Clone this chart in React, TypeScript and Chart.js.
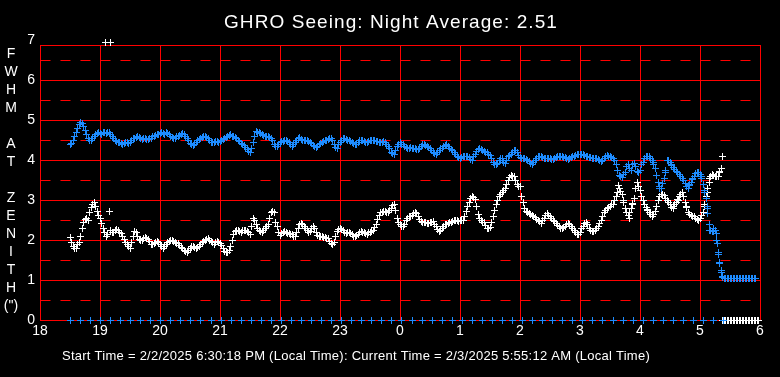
import { useEffect, useRef } from "react";
import { Chart, registerables } from "chart.js";

Chart.register(...registerables);

const TITLE = "GHRO Seeing: Night Average: 2.51";
const FOOTER =
  "Start Time = 2/2/2025 6:30:18 PM (Local Time): Current Time = 2/3/2025 5:55:12 AM (Local Time)";
const Y_LABEL_CHARS = ["F", "W", "H", "M", "", "A", "T", "", "Z", "E", "N", "I", "T", "H", '(")'];

const X_MIN = 18;
const X_MAX = 30;
const Y_MIN = 0;
const Y_MAX = 7;
const FRAME_TOP = 6.875;

// regular sampling of the two seeing series (hours since midnight of start day)
const SAMPLE_START = 18.5;
const SAMPLE_START_B = 18.525;
const SAMPLE_STEP = 0.05;

const blueSeeing = [
  4.38, 4.5, 4.7, 4.88, 4.92, 4.75, 4.55, 4.5, 4.58, 4.67,
  4.67, 4.68, 4.66, 4.68, 4.6, 4.5, 4.45, 4.42, 4.42, 4.43, 4.45, 4.53, 4.57, 4.56, 4.52, 4.54, 4.52, 4.55, 4.6, 4.63,
  4.67, 4.66, 4.68, 4.64, 4.57, 4.54, 4.6, 4.64, 4.63, 4.55, 4.42, 4.37, 4.43, 4.52, 4.56, 4.6, 4.55, 4.45, 4.45, 4.47,
  4.47, 4.52, 4.57, 4.62, 4.6, 4.56, 4.5, 4.42, 4.36, 4.27, 4.2, 4.45, 4.71, 4.68, 4.65, 4.6, 4.58, 4.55, 4.4, 4.35,
  4.45, 4.47, 4.5, 4.43, 4.35, 4.45, 4.54, 4.52, 4.5, 4.48, 4.45, 4.37, 4.31, 4.38, 4.45, 4.48, 4.52, 4.55, 4.4, 4.28,
  4.45, 4.53, 4.52, 4.49, 4.45, 4.38, 4.45, 4.5, 4.46, 4.45, 4.48, 4.5, 4.47, 4.45, 4.45, 4.43, 4.35, 4.2, 4.15, 4.35,
  4.44, 4.38, 4.32, 4.3, 4.3, 4.28, 4.26, 4.35, 4.38, 4.33, 4.3, 4.2, 4.14, 4.24, 4.3, 4.37, 4.35, 4.27, 4.2, 4.1,
  4.04, 4.08, 4.1, 4.06, 4.0, 4.15, 4.27, 4.26, 4.22, 4.18, 4.12, 3.95, 3.88, 3.98, 4.05, 3.92, 4.08, 4.15, 4.25, 4.2,
  4.06, 4.04, 4.02, 3.96, 3.9, 3.98, 4.08, 4.1, 4.05, 4.04, 4.03, 4.02, 4.06, 4.1, 4.08, 4.06, 4.02, 4.06, 4.1, 4.14,
  4.14, 4.13, 4.1, 4.07, 4.05, 4.05, 4.02, 3.97, 4.05, 4.12, 4.08, 4.04, 3.9, 3.62, 3.57, 3.7, 3.88, 3.75, 3.92, 3.72,
  3.75, 3.95, 4.08, 4.1, 3.98, 3.8, 3.45, 3.3, 3.55, 3.98, 3.95, 3.82, 3.72, 3.65, 3.55, 3.42, 3.3, 3.45, 3.6, 3.7,
  3.65, 3.4, 3.05, 2.4, 2.22, 2.25, 1.7, 1.2, 1.05, 1.04, 1.05, 1.04, 1.05, 1.04, 1.05, 1.04, 1.05, 1.04, 1.05,
];

const blueSeeingB = [
  4.42, 4.6, 4.8, 4.93, 4.85, 4.65, 4.5, 4.55, 4.64, 4.7,
  4.64, 4.7, 4.69, 4.65, 4.55, 4.47, 4.44, 4.4, 4.44, 4.41, 4.5, 4.55, 4.59, 4.53, 4.55, 4.51, 4.54, 4.58, 4.62, 4.65,
  4.69, 4.64, 4.66, 4.6, 4.55, 4.58, 4.62, 4.66, 4.6, 4.48, 4.38, 4.4, 4.48, 4.55, 4.58, 4.57, 4.5, 4.43, 4.47, 4.45,
  4.5, 4.55, 4.6, 4.63, 4.58, 4.53, 4.46, 4.39, 4.32, 4.22, 4.3, 4.6, 4.7, 4.66, 4.62, 4.59, 4.56, 4.5, 4.33, 4.4,
  4.46, 4.49, 4.47, 4.38, 4.4, 4.5, 4.56, 4.5, 4.49, 4.46, 4.41, 4.33, 4.35, 4.42, 4.47, 4.5, 4.54, 4.48, 4.32, 4.38,
  4.5, 4.55, 4.5, 4.47, 4.42, 4.4, 4.48, 4.48, 4.44, 4.47, 4.5, 4.48, 4.46, 4.43, 4.47, 4.4, 4.28, 4.16, 4.25, 4.4,
  4.4, 4.35, 4.3, 4.32, 4.28, 4.27, 4.3, 4.38, 4.36, 4.31, 4.25, 4.16, 4.2, 4.28, 4.34, 4.38, 4.3, 4.24, 4.15, 4.06,
  4.06, 4.1, 4.08, 4.02, 4.08, 4.22, 4.28, 4.24, 4.2, 4.15, 4.05, 3.9, 3.92, 4.05, 3.95, 4.0, 4.12, 4.2, 4.24, 4.12,
  4.05, 4.03, 3.98, 3.92, 3.94, 4.04, 4.1, 4.07, 4.05, 4.03, 4.02, 4.04, 4.08, 4.09, 4.07, 4.03, 4.04, 4.08, 4.12, 4.15,
  4.15, 4.11, 4.08, 4.06, 4.04, 4.03, 3.99, 4.0, 4.1, 4.1, 4.06, 3.98, 3.75, 3.58, 3.63, 3.85, 3.8, 3.9, 3.85, 3.68,
  3.88, 4.05, 4.1, 4.05, 3.9, 3.62, 3.35, 3.42, 3.75, 4.0, 3.88, 3.77, 3.68, 3.6, 3.48, 3.35, 3.38, 3.52, 3.67, 3.68,
  3.55, 3.2, 2.8, 2.25, 2.22, 2.0, 1.45, 1.08, 1.04, 1.05, 1.04, 1.05, 1.04, 1.05, 1.04, 1.05, 1.04, 1.05, 1.04,
];

const whiteSeeing = [
  2.06, 1.84, 1.8, 1.95, 2.3, 2.52, 2.48, 2.82, 2.95, 2.72,
  2.54, 2.3, 2.08, 2.72, 2.2, 2.23, 2.24, 2.17, 2.02, 1.9, 1.8, 2.1, 2.18, 2.02, 2.0, 2.06, 2.02, 1.9, 1.92, 1.97,
  1.9, 1.8, 1.9, 1.97, 1.99, 1.95, 1.92, 1.82, 1.75, 1.7, 1.8, 1.84, 1.8, 1.83, 1.94, 1.98, 2.03, 1.97, 1.9, 1.97,
  1.92, 1.8, 1.68, 1.75, 2.0, 2.22, 2.25, 2.2, 2.25, 2.22, 2.15, 2.54, 2.4, 2.25, 2.2, 2.3, 2.38, 2.7, 2.68, 2.35,
  2.12, 2.2, 2.19, 2.17, 2.13, 2.1, 2.3, 2.42, 2.35, 2.25, 2.22, 2.34, 2.2, 2.08, 2.08, 2.06, 2.03, 1.92, 1.95, 2.22,
  2.28, 2.25, 2.17, 2.2, 2.15, 2.08, 2.15, 2.21, 2.18, 2.15, 2.2, 2.25, 2.4, 2.62, 2.7, 2.71, 2.68, 2.8, 2.88, 2.55,
  2.38, 2.33, 2.48, 2.58, 2.62, 2.7, 2.6, 2.47, 2.44, 2.42, 2.43, 2.46, 2.35, 2.22, 2.3, 2.38, 2.42, 2.44, 2.48, 2.5,
  2.48, 2.5, 2.72, 2.95, 3.08, 3.02, 2.65, 2.48, 2.43, 2.3, 2.32, 2.6, 2.9, 3.1, 3.18, 3.3, 3.48, 3.62, 3.58, 3.4,
  3.35, 2.95, 2.72, 2.66, 2.62, 2.56, 2.5, 2.42, 2.55, 2.66, 2.58, 2.5, 2.42, 2.33, 2.29, 2.33, 2.42, 2.35, 2.25, 2.13,
  2.18, 2.35, 2.45, 2.3, 2.21, 2.25, 2.35, 2.5, 2.68, 2.78, 2.85, 2.9, 3.08, 3.28, 3.15, 2.8, 2.62, 2.78, 3.05, 3.45,
  3.25, 3.0, 2.82, 2.7, 2.6, 2.72, 2.98, 3.15, 3.12, 3.0, 2.88, 2.8, 2.95, 3.08, 3.2, 2.95, 2.7, 2.62, 2.58, 2.52,
  2.55, 2.7, 3.1, 3.45, 3.65, 3.6, 3.6, 3.78, 0, 0, 0, 0, 0, 0, 0, 0, 0, 0, 0, 0,
];

const whiteSeeingB = [
  1.95, 1.78, 1.88, 2.1, 2.45, 2.55, 2.7, 2.9, 2.85, 2.62,
  2.42, 2.2, 2.15, 2.25, 2.18, 2.26, 2.2, 2.1, 1.95, 1.84, 1.95, 2.22, 2.08, 1.98, 2.04, 2.03, 1.96, 1.88, 1.95, 1.94,
  1.85, 1.85, 1.94, 2.0, 1.96, 1.92, 1.86, 1.78, 1.72, 1.75, 1.83, 1.82, 1.81, 1.9, 1.97, 2.01, 1.99, 1.93, 1.94, 1.95,
  1.86, 1.72, 1.7, 1.85, 2.15, 2.25, 2.22, 2.24, 2.23, 2.18, 2.35, 2.48, 2.3, 2.21, 2.25, 2.35, 2.55, 2.72, 2.45, 2.2,
  2.17, 2.21, 2.16, 2.15, 2.1, 2.2, 2.38, 2.38, 2.3, 2.2, 2.3, 2.28, 2.12, 2.09, 2.07, 2.04, 1.97, 1.9, 2.1, 2.27,
  2.27, 2.2, 2.19, 2.17, 2.1, 2.12, 2.2, 2.2, 2.16, 2.18, 2.22, 2.32, 2.52, 2.68, 2.72, 2.7, 2.75, 2.86, 2.75, 2.45,
  2.35, 2.4, 2.54, 2.6, 2.66, 2.66, 2.52, 2.45, 2.43, 2.42, 2.45, 2.4, 2.27, 2.25, 2.35, 2.4, 2.43, 2.46, 2.49, 2.47,
  2.49, 2.6, 2.85, 3.03, 3.06, 2.85, 2.55, 2.45, 2.36, 2.28, 2.45, 2.75, 3.0, 3.15, 3.24, 3.4, 3.56, 3.6, 3.5, 3.35,
  3.1, 2.8, 2.68, 2.64, 2.6, 2.52, 2.46, 2.5, 2.62, 2.62, 2.54, 2.46, 2.37, 2.3, 2.31, 2.38, 2.4, 2.3, 2.18, 2.15,
  2.28, 2.42, 2.38, 2.25, 2.22, 2.3, 2.42, 2.6, 2.74, 2.82, 2.88, 3.0, 3.2, 3.22, 2.95, 2.7, 2.7, 2.92, 3.3, 3.35,
  3.1, 2.9, 2.76, 2.65, 2.65, 2.85, 3.08, 3.15, 3.05, 2.95, 2.82, 2.88, 3.02, 3.15, 3.1, 2.82, 2.65, 2.6, 2.55, 2.5,
  2.62, 2.9, 3.3, 3.58, 3.62, 3.58, 3.7, 0, 0, 0, 0, 0, 0, 0, 0, 0, 0, 0, 0, 0,
];

// scattered readings off the regular grid
const blueExtraTimes = [28.22, 28.27, 28.33, 28.42, 28.53, 28.62, 28.82, 28.88, 29.02, 29.07, 29.12, 29.13, 29.16, 29.22, 29.27, 29.29, 29.31, 29.33, 29.35, 29.38];
const blueExtraValues = [3.95, 3.62, 3.3, 3.7, 3.87, 3.7, 3.37, 3.55, 3.58, 3.25, 2.83, 2.67, 2.25, 2.3, 2.17, 1.92, 1.65, 1.42, 1.23, 1.07];

const whiteExtraTimes = [19.09, 19.17, 27.64, 27.72, 27.83, 27.88, 28.12, 28.55, 28.64, 28.78, 29.08, 29.12, 29.16, 29.25, 29.32, 29.37];
const whiteExtraValues = [6.95, 6.95, 3.37, 3.0, 2.55, 2.9, 2.75, 2.83, 3.0, 2.83, 2.83, 3.2, 3.55, 3.58, 3.72, 4.08];

// 10-minute marker row along the bottom
const MARKER_START = 18.505;
const MARKER_STEP = 0.1675;
const markerValues = [
  0, 0, 0, 0, 0, 0, 0, 0, 0, 0, 0, 0, 0, 0, 0, 0, 0, 0, 0, 0, 0, 0,
  0, 0, 0, 0, 0, 0, 0, 0, 0, 0, 0, 0, 0, 0, 0, 0, 0, 0, 0, 0, 0, 0,
  0, 0, 0, 0, 0, 0, 0, 0, 0, 0, 0, 0, 0, 0, 0, 0, 0, 0, 0, 0, 0, 0,
];

const BLUE = "#1e8cff";
const WHITE = "#ffffff";
const RED = "#ff0000";
const FONT_FAMILY = "'Liberation Sans', Arial, sans-serif";

function sampled(values: number[], start: number, step: number) {
  return values.map((v, i) => ({ x: start + i * step, y: v }));
}
function paired(times: number[], values: number[]) {
  return times.map((t, i) => ({ x: t, y: values[i] }));
}

function makeCross(color: string) {
  const c = document.createElement("canvas");
  c.width = 7;
  c.height = 7;
  const g = c.getContext("2d")!;
  g.fillStyle = color;
  g.fillRect(3, 0, 1, 7);
  g.fillRect(0, 3, 7, 1);
  return c;
}

function fitText(ctx: CanvasRenderingContext2D, text: string, x: number, y: number, width: number) {
  const anyCtx = ctx as any;
  if ("letterSpacing" in anyCtx) {
    anyCtx.letterSpacing = "0px";
    const w = ctx.measureText(text).width;
    const ls = (width - w) / text.length;
    anyCtx.letterSpacing = ls + "px";
    ctx.fillText(text, x, y);
    anyCtx.letterSpacing = "0px";
  } else {
    const w = ctx.measureText(text).width;
    ctx.save();
    ctx.translate(x, y);
    ctx.scale(width / w, 1);
    ctx.fillText(text, 0, 0);
    ctx.restore();
  }
}

const framePlugin = {
  id: "seeingFrame",
  beforeDraw(chart: any) {
    const ctx = chart.ctx as CanvasRenderingContext2D;
    ctx.save();
    ctx.fillStyle = "#000000";
    ctx.fillRect(0, 0, chart.width, chart.height);
    ctx.restore();
  },
  beforeDatasetsDraw(chart: any) {
    const ctx = chart.ctx as CanvasRenderingContext2D;
    const xs = chart.scales.x;
    const ys = chart.scales.y;
    const left = Math.round(xs.getPixelForValue(X_MIN)) + 0.5;
    const right = Math.round(xs.getPixelForValue(X_MAX)) + 0.5;
    const top = Math.round(ys.getPixelForValue(FRAME_TOP)) + 0.5;
    const bottom = Math.round(ys.getPixelForValue(Y_MIN)) + 0.5;
    ctx.save();
    ctx.strokeStyle = RED;
    ctx.lineWidth = 1;
    ctx.setLineDash([10, 10]);
    ctx.beginPath();
    for (let v = 0.5; v < Y_MAX; v += 1) {
      const py = Math.round(ys.getPixelForValue(v)) + 0.5;
      ctx.moveTo(left, py);
      ctx.lineTo(right, py);
    }
    ctx.stroke();
    ctx.setLineDash([]);
    ctx.beginPath();
    for (let v = 1; v < Y_MAX; v += 1) {
      const py = Math.round(ys.getPixelForValue(v)) + 0.5;
      ctx.moveTo(left, py);
      ctx.lineTo(right, py);
    }
    for (let h = X_MIN + 1; h < X_MAX; h += 1) {
      const px = Math.round(xs.getPixelForValue(h)) + 0.5;
      ctx.moveTo(px, top);
      ctx.lineTo(px, bottom);
    }
    ctx.stroke();
    ctx.strokeRect(left, top, right - left, bottom - top);
    ctx.restore();
    ctx.imageSmoothingEnabled = false;
  },
  afterDatasetsDraw(chart: any) {
    chart.ctx.imageSmoothingEnabled = true;
  },
  afterDraw(chart: any) {
    const ctx = chart.ctx as CanvasRenderingContext2D;
    ctx.save();
    ctx.fillStyle = WHITE;
    ctx.textBaseline = "alphabetic";
    ctx.textAlign = "left";
    ctx.font = `19px ${FONT_FAMILY}`;
    fitText(ctx, TITLE, 224, 28, 334);
    ctx.font = `13px ${FONT_FAMILY}`;
    fitText(ctx, FOOTER, 62, 360, 588);
    ctx.font = `14px ${FONT_FAMILY}`;
    ctx.textAlign = "center";
    Y_LABEL_CHARS.forEach((c, i) => {
      if (c) ctx.fillText(c, 11, 58 + i * 18);
    });
    ctx.restore();
  },
};

export default function App() {
  const canvasRef = useRef<HTMLCanvasElement | null>(null);

  useEffect(() => {
    document.body.style.margin = "0";
    document.body.style.background = "#000";
    const canvas = canvasRef.current;
    if (!canvas) return;
    const tickFont = { family: FONT_FAMILY, size: 14 };
    const blueCross = makeCross(BLUE);
    const whiteCross = makeCross(WHITE);
    const pointCommon = {
      showLine: false,
      pointRadius: 3.5,
      borderWidth: 1,
      clip: false as const,
    };
    const blueDs = { ...pointCommon, pointStyle: blueCross, borderColor: BLUE, backgroundColor: BLUE };
    const whiteDs = { ...pointCommon, pointStyle: whiteCross, borderColor: WHITE, backgroundColor: WHITE };
    const chart = new Chart(canvas, {
      type: "scatter",
      data: {
        datasets: [
          { ...blueDs, label: "markers", data: sampled(markerValues, MARKER_START, MARKER_STEP) },
          { ...blueDs, label: "blue", data: sampled(blueSeeing, SAMPLE_START, SAMPLE_STEP) },
          { ...blueDs, label: "blue b", data: sampled(blueSeeingB, SAMPLE_START_B, SAMPLE_STEP) },
          { ...blueDs, label: "blue extra", data: paired(blueExtraTimes, blueExtraValues) },
          { ...whiteDs, label: "white", data: sampled(whiteSeeing, SAMPLE_START, SAMPLE_STEP) },
          { ...whiteDs, label: "white b", data: sampled(whiteSeeingB, SAMPLE_START_B, SAMPLE_STEP) },
          { ...whiteDs, label: "white extra", data: paired(whiteExtraTimes, whiteExtraValues) },
        ] as any,
      },
      options: {
        responsive: false,
        animation: false,
        devicePixelRatio: 1,
        events: [],
        layout: { padding: { top: 40, right: 20, left: 0, bottom: 0 } },
        plugins: {
          legend: { display: false },
          tooltip: { enabled: false },
          title: { display: false },
        },
        scales: {
          x: {
            type: "linear",
            min: X_MIN,
            max: X_MAX,
            grid: { display: false, drawTicks: false },
            border: { display: false },
            ticks: {
              stepSize: 1,
              autoSkip: false,
              maxRotation: 0,
              color: WHITE,
              padding: 3,
              font: tickFont,
              callback: (v: any) => String(((Number(v) % 24) + 24) % 24),
            },
            afterFit: (s: any) => {
              s.height = 57;
            },
          },
          y: {
            type: "linear",
            min: Y_MIN,
            max: Y_MAX,
            grid: { display: false, drawTicks: false },
            border: { display: false },
            ticks: { stepSize: 1, color: WHITE, padding: 5, font: tickFont },
            afterFit: (s: any) => {
              s.width = 40;
            },
          },
        },
      },
      plugins: [framePlugin],
    });
    return () => chart.destroy();
  }, []);

  return <canvas ref={canvasRef} width={780} height={377} style={{ display: "block" }} />;
}
